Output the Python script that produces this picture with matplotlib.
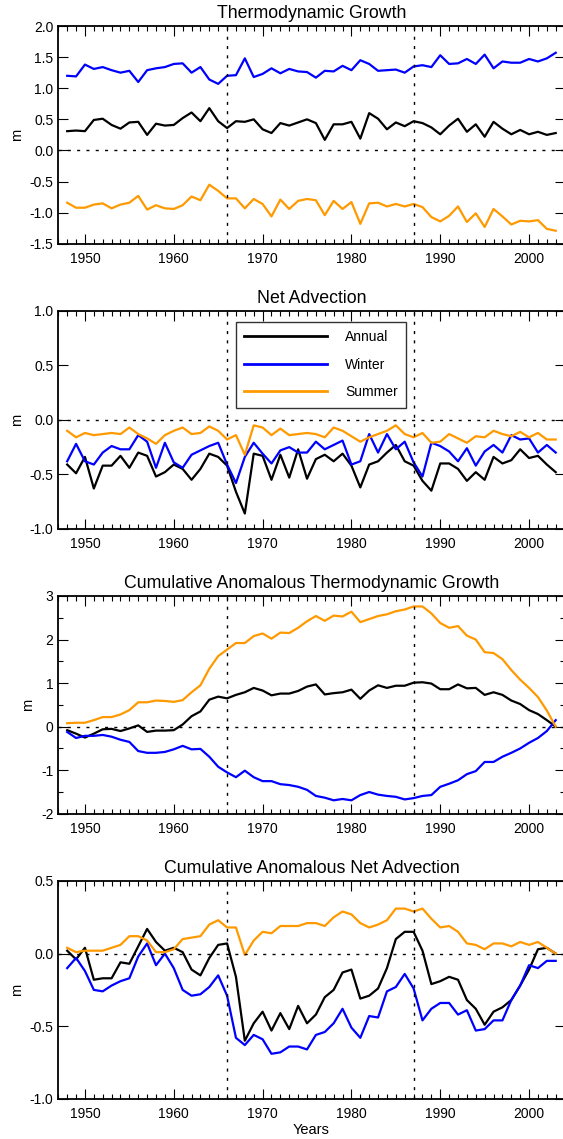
import matplotlib
matplotlib.use("Agg")
import matplotlib.pyplot as plt
from matplotlib.ticker import MultipleLocator, FormatStrFormatter

plt.rcParams['font.family'] = ['Liberation Sans', 'DejaVu Sans']
plt.rcParams['axes.unicode_minus'] = False

########################################################
# Data (metres), one value per year 1948-2003

years = list(range(1948, 2004))

# Thermodynamic Growth
tg_annual = [0.31, 0.32, 0.31, 0.49, 0.51, 0.41, 0.35, 0.45, 0.46, 0.25,
             0.43, 0.40, 0.41, 0.52, 0.61, 0.47, 0.68, 0.47, 0.36, 0.47,
             0.46, 0.50, 0.34, 0.28, 0.44, 0.40, 0.45, 0.50, 0.44, 0.17,
             0.42, 0.42, 0.46, 0.19, 0.60, 0.51, 0.34, 0.45, 0.39, 0.47,
             0.44, 0.37, 0.26, 0.40, 0.51, 0.30, 0.42, 0.22, 0.46, 0.35,
             0.26, 0.33, 0.26, 0.30, 0.25, 0.28]
tg_winter = [1.20, 1.19, 1.38, 1.31, 1.34, 1.29, 1.25, 1.28, 1.10, 1.29,
             1.32, 1.34, 1.39, 1.40, 1.25, 1.34, 1.14, 1.07, 1.20, 1.21,
             1.48, 1.18, 1.23, 1.32, 1.24, 1.31, 1.27, 1.26, 1.17, 1.28,
             1.27, 1.36, 1.29, 1.45, 1.39, 1.28, 1.29, 1.30, 1.25, 1.35,
             1.37, 1.34, 1.53, 1.39, 1.40, 1.47, 1.39, 1.54, 1.32, 1.43,
             1.41, 1.41, 1.47, 1.43, 1.48, 1.57]
tg_summer = [-0.84, -0.92, -0.92, -0.87, -0.85, -0.93, -0.87, -0.84, -0.73, -0.95,
             -0.88, -0.93, -0.94, -0.88, -0.74, -0.80, -0.55, -0.65, -0.77, -0.77,
             -0.93, -0.78, -0.86, -1.06, -0.79, -0.94, -0.81, -0.78, -0.80, -1.04,
             -0.81, -0.94, -0.83, -1.18, -0.85, -0.84, -0.90, -0.86, -0.90, -0.86,
             -0.91, -1.07, -1.14, -1.05, -0.90, -1.15, -1.01, -1.23, -0.94, -1.06,
             -1.19, -1.13, -1.14, -1.12, -1.26, -1.29]

# Net Advection
na_annual = [-0.41, -0.49, -0.34, -0.63, -0.42, -0.42, -0.33, -0.44, -0.30, -0.33,
             -0.52, -0.48, -0.41, -0.45, -0.55, -0.45, -0.31, -0.34, -0.42, -0.66,
             -0.86, -0.31, -0.33, -0.55, -0.32, -0.53, -0.27, -0.54, -0.36, -0.32,
             -0.38, -0.31, -0.42, -0.62, -0.41, -0.38, -0.30, -0.23, -0.38, -0.42,
             -0.56, -0.65, -0.40, -0.40, -0.45, -0.56, -0.48, -0.55, -0.34, -0.40,
             -0.37, -0.27, -0.35, -0.33, -0.41, -0.48]
na_winter = [-0.38, -0.22, -0.38, -0.41, -0.30, -0.24, -0.27, -0.27, -0.14, -0.20,
             -0.44, -0.21, -0.39, -0.44, -0.32, -0.28, -0.24, -0.21, -0.41, -0.58,
             -0.34, -0.21, -0.31, -0.40, -0.28, -0.25, -0.30, -0.30, -0.20, -0.27,
             -0.23, -0.19, -0.41, -0.38, -0.13, -0.30, -0.13, -0.27, -0.20, -0.39,
             -0.52, -0.21, -0.24, -0.29, -0.38, -0.26, -0.42, -0.29, -0.23, -0.30,
             -0.14, -0.18, -0.17, -0.30, -0.23, -0.30]
na_summer = [-0.10, -0.16, -0.12, -0.14, -0.13, -0.12, -0.13, -0.07, -0.13, -0.17,
             -0.22, -0.14, -0.10, -0.07, -0.13, -0.12, -0.06, -0.10, -0.18, -0.14,
             -0.32, -0.05, -0.07, -0.14, -0.08, -0.14, -0.13, -0.12, -0.13, -0.16,
             -0.07, -0.10, -0.15, -0.20, -0.16, -0.13, -0.10, -0.05, -0.13, -0.16,
             -0.12, -0.21, -0.20, -0.13, -0.17, -0.21, -0.15, -0.16, -0.10, -0.13,
             -0.15, -0.11, -0.16, -0.12, -0.18, -0.18]

# Cumulative Anomalous Thermodynamic Growth
ctg_annual = [-0.08, -0.16, -0.25, -0.16, -0.06, -0.05, -0.10, -0.04, 0.03, -0.12,
              -0.09, -0.09, -0.08, 0.05, 0.24, 0.35, 0.62, 0.69, 0.65, 0.73,
              0.79, 0.89, 0.83, 0.72, 0.76, 0.76, 0.82, 0.92, 0.97, 0.74,
              0.77, 0.79, 0.85, 0.64, 0.83, 0.95, 0.89, 0.94, 0.94, 1.01,
              1.02, 0.99, 0.86, 0.86, 0.97, 0.88, 0.89, 0.73, 0.79, 0.73,
              0.60, 0.52, 0.38, 0.29, 0.15, 0.00]
ctg_winter = [-0.12, -0.26, -0.21, -0.21, -0.19, -0.23, -0.30, -0.35, -0.56, -0.60,
              -0.60, -0.58, -0.52, -0.44, -0.52, -0.51, -0.69, -0.92, -1.05, -1.16,
              -1.01, -1.16, -1.25, -1.25, -1.32, -1.34, -1.38, -1.45, -1.59, -1.63,
              -1.69, -1.66, -1.69, -1.57, -1.50, -1.56, -1.59, -1.61, -1.67, -1.64,
              -1.59, -1.57, -1.38, -1.31, -1.23, -1.09, -1.02, -0.81, -0.81, -0.69,
              -0.60, -0.50, -0.37, -0.26, -0.10, 0.15]
ctg_summer = [0.08, 0.09, 0.09, 0.15, 0.22, 0.22, 0.28, 0.38, 0.56, 0.56,
              0.60, 0.59, 0.57, 0.61, 0.79, 0.95, 1.33, 1.62, 1.77, 1.92,
              1.92, 2.08, 2.14, 2.02, 2.16, 2.15, 2.27, 2.42, 2.54, 2.43,
              2.55, 2.53, 2.64, 2.40, 2.47, 2.54, 2.58, 2.65, 2.69, 2.76,
              2.76, 2.60, 2.38, 2.27, 2.31, 2.09, 2.00, 1.71, 1.69, 1.55,
              1.30, 1.08, 0.89, 0.68, 0.37, 0.00]

# Cumulative Anomalous Net Advection
cna_annual = [0.02, -0.04, 0.04, -0.18, -0.17, -0.17, -0.06, -0.07, 0.05, 0.17,
              0.08, 0.02, 0.04, 0.01, -0.11, -0.15, -0.03, 0.06, 0.07, -0.16,
              -0.60, -0.48, -0.40, -0.53, -0.41, -0.52, -0.36, -0.48, -0.42, -0.30,
              -0.25, -0.13, -0.11, -0.31, -0.29, -0.24, -0.10, 0.10, 0.15, 0.15,
              0.02, -0.21, -0.19, -0.16, -0.18, -0.32, -0.38, -0.49, -0.40, -0.37,
              -0.32, -0.22, -0.11, 0.03, 0.04, 0.00]
cna_winter = [-0.10, -0.03, -0.12, -0.25, -0.26, -0.22, -0.19, -0.17, -0.02, 0.07,
              -0.08, 0.00, -0.10, -0.25, -0.29, -0.28, -0.23, -0.15, -0.29, -0.58,
              -0.63, -0.56, -0.59, -0.69, -0.68, -0.64, -0.64, -0.66, -0.56, -0.54,
              -0.48, -0.38, -0.51, -0.58, -0.43, -0.44, -0.26, -0.23, -0.14, -0.24,
              -0.46, -0.38, -0.34, -0.34, -0.42, -0.39, -0.53, -0.52, -0.46, -0.46,
              -0.32, -0.22, -0.08, -0.10, -0.05, -0.05]
cna_summer = [0.04, 0.01, 0.02, 0.02, 0.02, 0.04, 0.06, 0.12, 0.12, 0.09,
              0.01, 0.01, 0.03, 0.10, 0.11, 0.12, 0.20, 0.23, 0.18, 0.18,
              -0.01, 0.09, 0.15, 0.14, 0.19, 0.19, 0.19, 0.21, 0.21, 0.19,
              0.25, 0.29, 0.27, 0.21, 0.18, 0.20, 0.23, 0.31, 0.31, 0.29,
              0.31, 0.24, 0.18, 0.19, 0.15, 0.07, 0.06, 0.03, 0.07, 0.07,
              0.05, 0.08, 0.06, 0.08, 0.04, 0.00]

titles = ["Thermodynamic Growth", "Net Advection",
          "Cumulative Anomalous Thermodynamic Growth",
          "Cumulative Anomalous Net Advection"]
series = [(tg_annual, tg_winter, tg_summer),
          (na_annual, na_winter, na_summer),
          (ctg_annual, ctg_winter, ctg_summer),
          (cna_annual, cna_winter, cna_summer)]
ylims = [(-1.5, 2.0), (-1.0, 1.0), (-2, 3), (-1.0, 0.5)]
ysteps = [0.5, 0.5, 1, 0.5]
labels = ["Annual", "Winter", "Summer"]
colors = ["black", "#0000ff", "#ff9900"]
regime_years = [1966, 1987]

########################################################
W, H = 563, 1139
fig = plt.figure(figsize=(W / 100, H / 100), dpi=100)

left_px, right_px = 58.3, 564.6
dash = (0, (2.2, 4.5))

for i in range(4):
    top_px = 26 + 285 * i
    bot_px = 243.8 + 285 * i
    ax = fig.add_axes([left_px / W, 1 - bot_px / H,
                       (right_px - left_px) / W, (bot_px - top_px) / H])

    for data, lab, col in zip(series[i], labels, colors):
        ax.plot(years, data, color=col, lw=1.6, label=lab)

    ax.axhline(0, color="black", lw=1.0, ls=dash)
    for yr in regime_years:
        ax.axvline(yr, color="black", lw=1.0, ls=dash)

    ax.set_xlim(1947, 2004)
    ax.set_ylim(*ylims[i])
    ax.xaxis.set_major_locator(MultipleLocator(10))
    ax.xaxis.set_minor_locator(MultipleLocator(1))
    ax.yaxis.set_major_locator(MultipleLocator(ysteps[i]))
    if i == 2:
        ax.yaxis.set_minor_locator(MultipleLocator(0.5))
        ax.yaxis.set_major_formatter(FormatStrFormatter("%d"))
    else:
        ax.yaxis.set_major_formatter(FormatStrFormatter("%.1f"))

    ax.tick_params(which="both", direction="in", top=True, right=True,
                   width=0.8, labelsize=10)
    ax.tick_params(axis="x", which="major", length=7, pad=6)
    ax.tick_params(axis="y", which="major", length=7, pad=3.5)
    ax.tick_params(which="minor", length=3.5)
    for sp in ax.spines.values():
        sp.set_linewidth(1.3)

    ax.set_title(titles[i], fontsize=12.8, pad=5.5)
    ax.set_ylabel("m", fontsize=10.5, labelpad=4)

    if i == 1:
        leg = ax.legend(loc="upper left", bbox_to_anchor=(0.350, 0.951),
                        borderaxespad=0, fontsize=10, frameon=True,
                        fancybox=False, handlelength=6.0, handletextpad=1.3,
                        labelspacing=0.98, borderpad=0.6)
        leg.get_frame().set_edgecolor("black")
        leg.get_frame().set_linewidth(1.0)
        for h in leg.get_lines():
            h.set_linewidth(2.0)
    if i == 3:
        ax.set_xlabel("Years", fontsize=10.5, labelpad=1)

fig.savefig("out.png", dpi=100)
